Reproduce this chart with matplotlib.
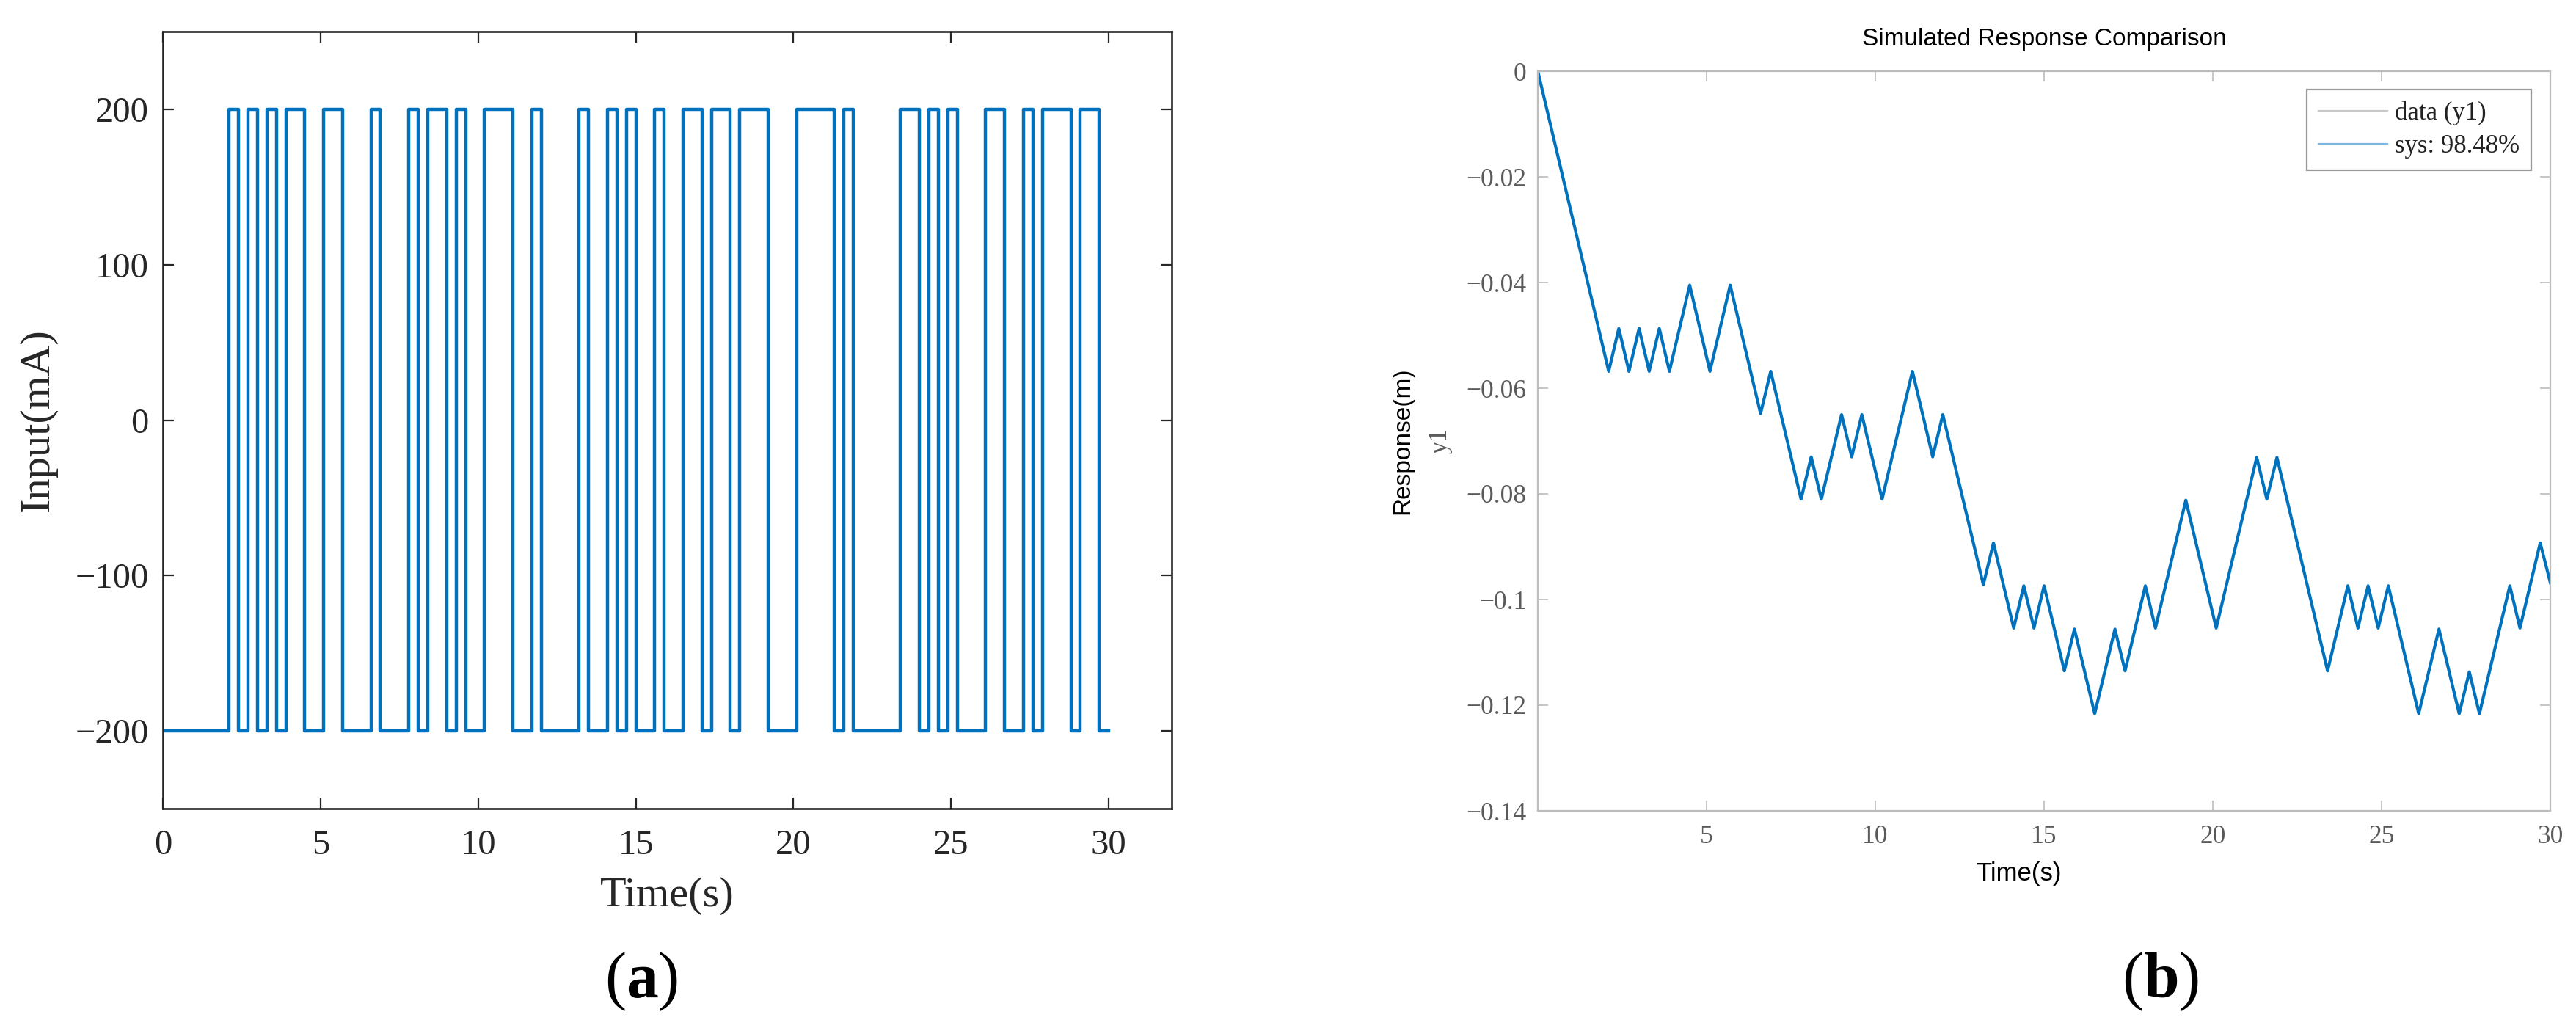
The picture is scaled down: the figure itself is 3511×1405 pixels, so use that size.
import matplotlib
matplotlib.use("Agg")
import matplotlib.pyplot as plt
from matplotlib.lines import Line2D

# ---------------- data ----------------
# (a) PRBS input current: switching instants (s) and levels (mA), step-post
input_times = [0.0, 2.1, 2.4, 2.7, 3.0, 3.3, 3.6, 3.9, 4.5, 5.1, 5.7, 6.6, 6.9,
               7.8, 8.1, 8.4, 9.0, 9.3, 9.6, 10.2, 11.1, 11.7, 12.0, 13.2, 13.5,
               14.1, 14.4, 14.7, 15.0, 15.6, 15.9, 16.5, 17.1, 17.4, 18.0, 18.3,
               19.2, 20.1, 21.3, 21.6, 21.9, 23.4, 24.0, 24.3, 24.6, 24.9, 25.2,
               26.1, 26.7, 27.3, 27.6, 27.9, 28.8, 29.1, 29.7, 30.0]
input_values = [-200, 200, -200, 200, -200, 200, -200, 200, -200, 200, -200, 200, -200,
                200, -200, 200, -200, 200, -200, 200, -200, 200, -200, 200, -200,
                200, -200, 200, -200, 200, -200, 200, -200, 200, -200, 200,
                -200, 200, -200, 200, -200, 200, -200, 200, -200, 200, -200,
                200, -200, 200, -200, 200, -200, 200, -200, -200]

# (b) simulated response vertices (s, m)
resp_times = [0.0, 2.1, 2.4, 2.7, 3.0, 3.3, 3.6, 3.9, 4.5, 5.1, 5.7, 6.6, 6.9,
              7.8, 8.1, 8.4, 9.0, 9.3, 9.6, 10.2, 11.1, 11.7, 12.0, 13.2, 13.5,
              14.1, 14.4, 14.7, 15.0, 15.6, 15.9, 16.5, 17.1, 17.4, 18.0, 18.3,
              19.2, 20.1, 21.3, 21.6, 21.9, 23.4, 24.0, 24.3, 24.6, 24.9, 25.2,
              26.1, 26.7, 27.3, 27.6, 27.9, 28.8, 29.1, 29.7, 30.0]
resp_values = [0.0, -0.0568, -0.0487, -0.0568, -0.0487, -0.0568, -0.0487, -0.0568,
               -0.0405, -0.0568, -0.0405, -0.0648, -0.0568, -0.0810, -0.0730,
               -0.0810, -0.0650, -0.0730, -0.0650, -0.0810, -0.0568, -0.0730,
               -0.0650, -0.0972, -0.0893, -0.1054, -0.0974, -0.1054, -0.0974,
               -0.1135, -0.1056, -0.1216, -0.1056, -0.1135, -0.0974, -0.1054,
               -0.0812, -0.1054, -0.0731, -0.0810, -0.0731, -0.1135, -0.0974,
               -0.1054, -0.0974, -0.1054, -0.0974, -0.1216, -0.1056, -0.1216,
               -0.1137, -0.1216, -0.0974, -0.1054, -0.0893, -0.0968]

a_xticks = [0, 5, 10, 15, 20, 25, 30]
a_yticks = [-200, -100, 0, 100, 200]
b_xticks = [5, 10, 15, 20, 25, 30]
b_yticks = [0, -0.02, -0.04, -0.06, -0.08, -0.1, -0.12, -0.14]
b_yticklabels = ["0", "\u22120.02", "\u22120.04", "\u22120.06", "\u22120.08",
                 "\u22120.1", "\u22120.12", "\u22120.14"]
legend_labels = ["data (y1)", "sys: 98.48%"]

# ---------------- style ----------------
plt.rcParams["mathtext.fontset"] = "custom"
plt.rcParams["mathtext.rm"] = "Liberation Serif"
plt.rcParams["mathtext.bf"] = "Liberation Serif:bold"
plt.rcParams["axes.unicode_minus"] = True

W, H = 3511, 1405
fig = plt.figure(figsize=(W / 100, H / 100), dpi=100)

BLUE = "#0072BD"
DARK = "#262626"
GRAY_SP = "#bcbcbc"
GRAY_TX = "#5a5a5a"
SERIF = "Liberation Serif"
SANS = "Liberation Sans"


def frac(x0, y0, x1, y1):
    return [x0 / W, 1 - y1 / H, (x1 - x0) / W, (y1 - y0) / H]


# ---------------- panel (a) ----------------
axa = fig.add_axes(frac(222, 43, 1597, 1102))
axa.plot(input_times, input_values, drawstyle="steps-post", color=BLUE, lw=3.2)
axa.set_xlim(0, 32)
axa.set_ylim(-250, 250)
axa.set_xticks(a_xticks)
axa.set_yticks(a_yticks)
for sp in axa.spines.values():
    sp.set_color(DARK)
    sp.set_linewidth(1.9)
axa.tick_params(axis="both", direction="in", length=11, width=1.6, color=DARK,
                top=True, right=True, labelcolor=DARK, labelsize=35)
axa.tick_params(axis="x", pad=20)
axa.tick_params(axis="y", pad=14)
for lab in axa.get_xticklabels() + axa.get_yticklabels():
    lab.set_fontfamily(SERIF)
axa.set_xlabel("Time(s)", fontsize=42, family=SERIF, color=DARK)
axa.set_ylabel("Input(mA)", fontsize=42, family=SERIF, color=DARK)
axa.xaxis.set_label_coords(0.5, -0.088)
axa.yaxis.set_label_coords(-0.105, 0.5)

# ---------------- panel (b) ----------------
axb = fig.add_axes(frac(2096, 97, 3476, 1105))
axb.plot(resp_times, resp_values, color="#c8c8c8", lw=1.0)
axb.plot(resp_times, resp_values, color=BLUE, lw=3.0)
axb.set_xlim(0, 30)
axb.set_ylim(-0.14, 0)
axb.set_xticks(b_xticks)
axb.set_yticks(b_yticks)
axb.set_yticklabels(b_yticklabels)
for sp in axb.spines.values():
    sp.set_color(GRAY_SP)
    sp.set_linewidth(1.6)
axb.tick_params(axis="both", direction="in", length=10, width=1.2, color=GRAY_SP,
                top=True, right=True, labelcolor=GRAY_TX, labelsize=25.5)
axb.tick_params(axis="x", pad=14)
axb.tick_params(axis="y", pad=11)
for lab in axb.get_xticklabels() + axb.get_yticklabels():
    lab.set_fontfamily(SERIF)
axb.set_title("Simulated Response Comparison", fontsize=24, family=SANS,
              color="black", pad=25)
axb.set_xlabel("Time(s)", fontsize=25, family=SANS, color="black")
axb.xaxis.set_label_coords(0.475, -0.068)
axb.set_ylabel("Response(m)", fontsize=24, family=SANS, color="black")
axb.yaxis.set_label_coords(-0.122, 0.5)
axb.text(-0.0965, 0.5, "y1", transform=axb.transAxes, rotation=90,
         ha="center", va="center", fontsize=25, family=SERIF, color=GRAY_TX)

handles = [Line2D([], [], color="#c8c8c8", lw=1.6),
           Line2D([], [], color="#7fb6e0", lw=1.6)]
leg = axb.legend(handles, legend_labels, loc="upper right",
                 bbox_to_anchor=(0.981, 0.975), fancybox=False, framealpha=1,
                 edgecolor="#9a9a9a", prop={"family": SERIF, "size": 25},
                 handlelength=2.7, handletextpad=0.3, borderpad=0.45,
                 labelspacing=0.35, borderaxespad=0)
leg.get_frame().set_linewidth(1.6)
for t in leg.get_texts():
    t.set_color("#222222")

# ---------------- captions ----------------
fig.text(874 / W, 1 - 1338 / H, r"($\mathbf{a}$)", fontsize=63, family=SERIF,
         ha="center", va="center", color="black")
fig.text(2945 / W, 1 - 1338 / H, r"($\mathbf{b}$)", fontsize=63, family=SERIF,
         ha="center", va="center", color="black")

fig.savefig("out.png", dpi=100, facecolor="white")
